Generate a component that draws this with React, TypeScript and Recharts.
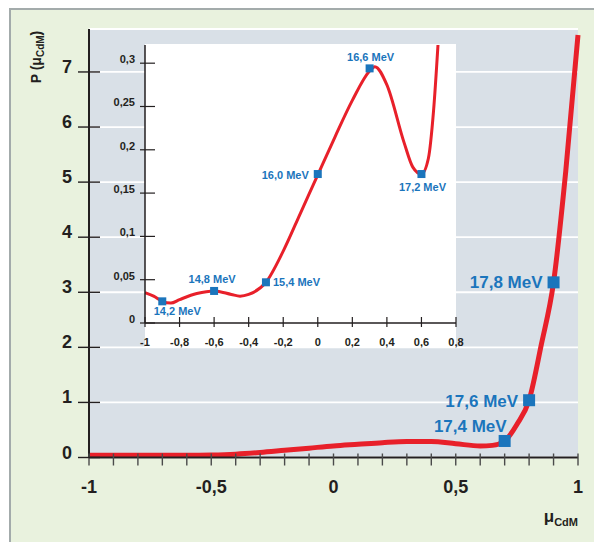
import React from "react"
import { CartesianGrid, ComposedChart, Line, Scatter, XAxis, YAxis } from "recharts"

// main curve P(mu)
const mainX = [-1, -0.9, -0.8, -0.7, -0.6, -0.5, -0.4, -0.3, -0.2, -0.1, 0, 0.1, 0.2, 0.3, 0.4, 0.5, 0.6, 0.65, 0.7, 0.75, 0.8, 0.85, 0.9, 0.95, 1]
const mainP = [0.04, 0.04, 0.04, 0.04, 0.04, 0.045, 0.06, 0.09, 0.13, 0.17, 0.21, 0.24, 0.27, 0.29, 0.29, 0.25, 0.21, 0.22, 0.3, 0.6, 1.04, 2.05, 3.18, 5.2, 7.67]

const mainMarkerX = [0.7, 0.8, 0.9]
const mainMarkerP = [0.3, 1.04, 3.18]
const mainMarkerLabels = ["17,4 MeV", "17,6 MeV", "17,8 MeV"]

const mainXTicks = [-1, -0.9, -0.8, -0.7, -0.6, -0.5, -0.4, -0.3, -0.2, -0.1, 0, 0.1, 0.2, 0.3, 0.4, 0.5, 0.6, 0.7, 0.8, 0.9, 1]
const mainXLabelled = [-1, -0.5, 0, 0.5, 1]
const mainYTicks = [0, 1, 2, 3, 4, 5, 6, 7]

// inset (zoom on the low part)
const insetX = [-1, -0.95, -0.9, -0.85, -0.8, -0.7, -0.6, -0.5, -0.45, -0.4, -0.3, -0.2, -0.1, 0, 0.1, 0.2, 0.3, 0.33, 0.4, 0.5, 0.55, 0.6, 0.64, 0.67, 0.7]
const insetP = [0.035, 0.031, 0.025, 0.023, 0.027, 0.034, 0.037, 0.033, 0.031, 0.033, 0.047, 0.083, 0.127, 0.171, 0.215, 0.257, 0.291, 0.296, 0.275, 0.208, 0.18, 0.172, 0.19, 0.245, 0.335]

const insetMarkerX = [-0.9, -0.6, -0.3, 0, 0.3, 0.6]
const insetMarkerP = [0.025, 0.037, 0.047, 0.172, 0.294, 0.172]
const insetMarkerLabels = ["14,2 MeV", "14,8 MeV", "15,4 MeV", "16,0 MeV", "16,6 MeV", "17,2 MeV"]

const insetXTicks = [-1, -0.8, -0.6, -0.4, -0.2, 0, 0.2, 0.4, 0.6, 0.8]
const insetYTicks = [0, 0.05, 0.1, 0.15, 0.2, 0.25, 0.3]

const FONT = "'Liberation Sans', Arial, sans-serif"
const INK = "#231f20"
const RED = "#e8202a"
const BLUE = "#1b75bc"

// where each label sits relative to its marker
const labelPlace: Record<string, { anchor: "start" | "middle" | "end"; dx: number; dy: number }> = {
  "17,4 MeV": { anchor: "end", dx: 2, dy: -9 },
  "17,6 MeV": { anchor: "end", dx: -11, dy: 7 },
  "17,8 MeV": { anchor: "end", dx: -11, dy: 6 },
  "14,2 MeV": { anchor: "middle", dx: 15, dy: 14 },
  "14,8 MeV": { anchor: "middle", dx: -2, dy: -8 },
  "15,4 MeV": { anchor: "start", dx: 7, dy: 4 },
  "16,0 MeV": { anchor: "end", dx: -9, dy: 5 },
  "16,6 MeV": { anchor: "middle", dx: 1, dy: -7 },
  "17,2 MeV": { anchor: "middle", dx: 1, dy: 17 },
}

const mainCurve = mainX.map((x, i) => ({ x, p: mainP[i] }))
const mainMarkers = mainMarkerX.map((x, i) => ({ x, p: mainMarkerP[i], label: mainMarkerLabels[i] }))
const insetCurve = insetX.map((x, i) => ({ x, p: insetP[i] }))
const insetMarkers = insetMarkerX.map((x, i) => ({ x, p: insetMarkerP[i], label: insetMarkerLabels[i] }))

const fmt = (v: number) => String(v).replace(".", ",")

function makeMarker(size: number, fontSize: number) {
  return (props: any) => {
    const { cx, cy, payload } = props
    const place = labelPlace[payload.label]
    return (
      <g>
        <rect x={cx - size / 2} y={cy - size / 2} width={size} height={size} fill={BLUE} />
        <text
          x={cx + place.dx}
          y={cy + place.dy}
          textAnchor={place.anchor}
          fontFamily={FONT}
          fontWeight="bold"
          fontSize={fontSize}
          fill={BLUE}
        >
          {payload.label}
        </text>
      </g>
    )
  }
}

function MainXTick(props: any) {
  const { x, y, payload } = props
  const v = payload.value
  const labelled = mainXLabelled.some((l) => Math.abs(l - v) < 1e-6)
  return (
    <g>
      <line x1={x} x2={x} y1={y - 4} y2={y + 8} stroke="#4a4a4a" strokeWidth={1.4} />
      {labelled && (
        <text x={x} y={y + 35} textAnchor="middle" fontFamily={FONT} fontWeight="bold" fontSize={18} fill={INK}>
          {fmt(Math.round(v * 10) / 10)}
        </text>
      )}
    </g>
  )
}

function MainYTick(props: any) {
  const { x, y, payload } = props
  return (
    <g>
      <line x1={x - 11} x2={x + 11} y1={y} y2={y} stroke={INK} strokeWidth={1.4} />
      <text x={x - 17} y={y + 1} textAnchor="end" fontFamily={FONT} fontWeight="bold" fontSize={18} fill={INK}>
        {payload.value}
      </text>
    </g>
  )
}

function InsetXTick(props: any) {
  const { x, y, payload } = props
  return (
    <g>
      <line x1={x} x2={x} y1={y - 6} y2={y + 4} stroke={INK} strokeWidth={1.2} />
      <text x={x} y={y + 23} textAnchor="middle" fontFamily={FONT} fontWeight="bold" fontSize={11} fill={INK}>
        {fmt(Math.round(payload.value * 10) / 10)}
      </text>
    </g>
  )
}

function InsetYTick(props: any) {
  const { x, y, payload } = props
  return (
    <g>
      <line x1={x - 5} x2={x + 10} y1={y} y2={y} stroke={INK} strokeWidth={1.2} />
      <text x={x - 10} y={y} textAnchor="end" fontFamily={FONT} fontWeight="bold" fontSize={11} fill={INK}>
        {fmt(Math.round(payload.value * 100) / 100)}
      </text>
    </g>
  )
}

export default function App() {
  return (
    <div style={{ position: "absolute", left: 0, top: 0, width: 594, height: 542, background: "#fff", overflow: "hidden" }}>
      <div
        style={{
          position: "absolute",
          left: 9,
          top: 8,
          width: 600,
          height: 560,
          background: "#e9f2de",
          borderTop: "2px solid #a3abab",
          borderLeft: "2px solid #a3abab",
        }}
      />
      <div style={{ position: "absolute", left: 0, top: 0 }}>
        <ComposedChart width={594} height={542} data={mainCurve} margin={{ top: 29, right: 16, bottom: 0, left: 0 }}>
          <CartesianGrid vertical={false} stroke="#ffffff" strokeWidth={1.8} fill="#d9e0e7" fillOpacity={1} />
          <XAxis
            type="number"
            dataKey="x"
            domain={[-1, 1]}
            ticks={mainXTicks}
            interval={0}
            height={84.5}
            tickSize={0}
            tickMargin={0}
            tickLine={false}
            axisLine={{ stroke: INK, strokeWidth: 2 }}
            tick={(p: any) => <MainXTick {...p} />}
          />
          <YAxis
            type="number"
            dataKey="p"
            domain={[0, 7.78]}
            ticks={mainYTicks}
            interval={0}
            width={89}
            tickSize={0}
            tickMargin={0}
            tickLine={false}
            axisLine={{ stroke: INK, strokeWidth: 2 }}
            tick={(p: any) => <MainYTick {...p} />}
          />
          <Line type="monotone" dataKey="p" stroke={RED} strokeWidth={5} dot={false} isAnimationActive={false} />
          <Scatter data={mainMarkers} shape={makeMarker(12, 17)} isAnimationActive={false} />
          <text transform="rotate(-90, 41, 57)" x={41} y={57} textAnchor="middle" fontFamily={FONT} fontWeight="bold" fontSize={14} fill={INK}>
            P (μ
            <tspan fontSize={10} dy={3}>
              CdM
            </tspan>
            <tspan dy={-3}>)</tspan>
          </text>
          <text x={578} y={522} textAnchor="end" fontFamily={FONT} fontWeight="bold" fontSize={17} fill={INK}>
            μ
            <tspan fontSize={11} dy={4}>
              CdM
            </tspan>
          </text>
        </ComposedChart>
      </div>
      <div style={{ position: "absolute", left: 145, top: 44, width: 311, height: 303, background: "#ffffff" }} />
      <div style={{ position: "absolute", left: 100, top: 30 }}>
        <ComposedChart width={370} height={330} data={insetCurve} margin={{ top: 15, right: 14, bottom: 0, left: 0 }}>
          <XAxis
            type="number"
            dataKey="x"
            domain={[-1, 0.8]}
            ticks={insetXTicks}
            interval={0}
            height={37}
            allowDataOverflow
            tickSize={0}
            tickMargin={0}
            tickLine={false}
            axisLine={{ stroke: INK, strokeWidth: 1.5 }}
            tick={(p: any) => <InsetXTick {...p} />}
          />
          <YAxis
            type="number"
            dataKey="p"
            domain={[0, 0.321]}
            ticks={insetYTicks}
            interval={0}
            width={45}
            allowDataOverflow
            tickSize={0}
            tickMargin={0}
            tickLine={false}
            axisLine={{ stroke: INK, strokeWidth: 1.5 }}
            tick={(p: any) => <InsetYTick {...p} />}
          />
          <Line type="monotone" dataKey="p" stroke={RED} strokeWidth={3} dot={false} isAnimationActive={false} />
          <Scatter data={insetMarkers} shape={makeMarker(8, 11)} isAnimationActive={false} />
        </ComposedChart>
      </div>
    </div>
  )
}
